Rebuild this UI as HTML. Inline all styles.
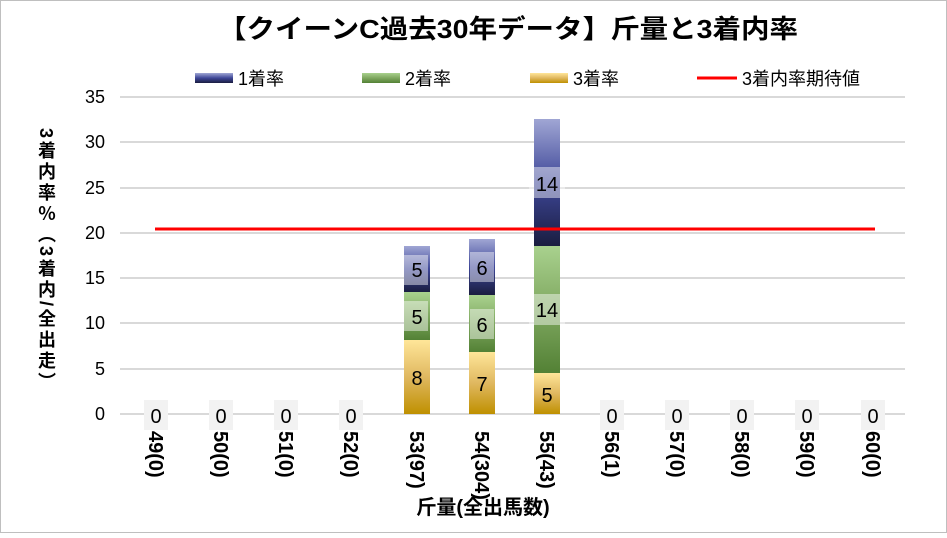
<!DOCTYPE html>
<html><head><meta charset="utf-8"><style>
body{margin:0;background:#fff}
svg text{font-family:"Liberation Sans","Noto Sans CJK JP",sans-serif}
</style></head><body>
<svg width="947" height="533" viewBox="0 0 947 533" xmlns="http://www.w3.org/2000/svg">
<defs>
<linearGradient id="b" x1="0" y1="0" x2="0" y2="1"><stop offset="0" stop-color="#a0a6d4"/><stop offset="0.5" stop-color="#3e4798"/><stop offset="1" stop-color="#1a1d40"/></linearGradient>
<linearGradient id="g" x1="0" y1="0" x2="0" y2="1"><stop offset="0" stop-color="#a9d18e"/><stop offset="0.5" stop-color="#7fa860"/><stop offset="1" stop-color="#538135"/></linearGradient>
<linearGradient id="y" x1="0" y1="0" x2="0" y2="1"><stop offset="0" stop-color="#ffe699"/><stop offset="0.5" stop-color="#e0b860"/><stop offset="1" stop-color="#bf9000"/></linearGradient>
</defs>
<rect x="0.5" y="0.5" width="946" height="532" fill="#fff" stroke="#bfbfbf"/>
<text x="508" y="38" font-size="26" font-weight="bold" text-anchor="middle" textLength="580" lengthAdjust="spacingAndGlyphs">【クイーンC過去30年データ】斤量と3着内率</text>
<g stroke="#d9d9d9" stroke-width="2">
<line x1="120" y1="97" x2="905" y2="97"/><line x1="120" y1="142" x2="905" y2="142"/><line x1="120" y1="188" x2="905" y2="188"/><line x1="120" y1="233" x2="905" y2="233"/><line x1="120" y1="278" x2="905" y2="278"/><line x1="120" y1="323" x2="905" y2="323"/><line x1="120" y1="369" x2="905" y2="369"/><line x1="120" y1="414" x2="905" y2="414"/>
</g>
<g font-size="18" text-anchor="end">
<text x="105" y="103">35</text><text x="105" y="148">30</text><text x="105" y="194">25</text><text x="105" y="239">20</text><text x="105" y="284">15</text><text x="105" y="329">10</text><text x="105" y="375">5</text><text x="105" y="420">0</text>
</g>
<rect x="195" y="73" width="38" height="10" fill="url(#b)"/><text x="238" y="85" font-size="18">1着率</text>
<rect x="362" y="73" width="38" height="10" fill="url(#g)"/><text x="405" y="85" font-size="18">2着率</text>
<rect x="530" y="73" width="38" height="10" fill="url(#y)"/><text x="573" y="85" font-size="18">3着率</text>
<line x1="697" y1="78" x2="737" y2="78" stroke="#f00" stroke-width="3"/><text x="742" y="85" font-size="18">3着内率期待値</text>
<rect x="404" y="340" width="26" height="74" fill="url(#y)"/><rect x="404" y="292" width="26" height="48" fill="url(#g)"/><rect x="404" y="246" width="26" height="46" fill="url(#b)"/>
<rect x="469" y="352" width="26" height="62" fill="url(#y)"/><rect x="469" y="295" width="26" height="57" fill="url(#g)"/><rect x="469" y="239" width="26" height="56" fill="url(#b)"/>
<rect x="534" y="373" width="26" height="41" fill="url(#y)"/><rect x="534" y="246" width="26" height="127" fill="url(#g)"/><rect x="534" y="119" width="26" height="127" fill="url(#b)"/>
<line x1="155" y1="229" x2="875" y2="229" stroke="#f00" stroke-width="3"/>
<g fill="#fff" fill-opacity="0.45">
<rect x="404" y="255" width="24" height="30"/><rect x="470" y="252" width="24" height="30"/><rect x="529" y="167" width="36" height="31"/>
<rect x="404" y="301" width="24" height="30"/><rect x="470" y="309" width="24" height="30"/><rect x="529" y="294" width="36" height="31"/>
</g>
<g fill="#f2f2f2"><rect x="144" y="400" width="24" height="30"/><rect x="209" y="400" width="24" height="30"/><rect x="274" y="400" width="24" height="30"/><rect x="339" y="400" width="24" height="30"/><rect x="600" y="400" width="24" height="30"/><rect x="665" y="400" width="24" height="30"/><rect x="730" y="400" width="24" height="30"/><rect x="795" y="400" width="24" height="30"/><rect x="861" y="400" width="24" height="30"/></g>
<g font-size="20" text-anchor="middle">
<text x="417" y="277">5</text><text x="482" y="275">6</text><text x="547" y="191">14</text>
<text x="417" y="324">5</text><text x="482" y="332">6</text><text x="547" y="317">14</text>
<text x="417" y="385">8</text><text x="482" y="391">7</text><text x="547" y="402">5</text>
<text x="156" y="423">0</text><text x="221" y="423">0</text><text x="286" y="423">0</text><text x="351" y="423">0</text><text x="612" y="423">0</text><text x="677" y="423">0</text><text x="742" y="423">0</text><text x="807" y="423">0</text><text x="873" y="423">0</text>
</g>
<g font-size="20" font-weight="bold">
<text transform="translate(149,431) rotate(90)">49(0)</text>
<text transform="translate(214,431) rotate(90)">50(0)</text>
<text transform="translate(279,431) rotate(90)">51(0)</text>
<text transform="translate(344,431) rotate(90)">52(0)</text>
<text transform="translate(410,431) rotate(90)">53(97)</text>
<text transform="translate(475,431) rotate(90)">54(304)</text>
<text transform="translate(540,431) rotate(90)">55(43)</text>
<text transform="translate(605,431) rotate(90)">56(1)</text>
<text transform="translate(670,431) rotate(90)">57(0)</text>
<text transform="translate(735,431) rotate(90)">58(0)</text>
<text transform="translate(800,431) rotate(90)">59(0)</text>
<text transform="translate(866,431) rotate(90)">60(0)</text>
</g>
<text x="483" y="514" font-size="20" font-weight="bold" text-anchor="middle">斤量(全出馬数)</text>
<text x="46" y="128" font-size="18" font-weight="bold" letter-spacing="3" style="writing-mode:vertical-rl;glyph-orientation-vertical:0">3着内率％（3着内/全出走）</text>
</svg>
</body></html>
